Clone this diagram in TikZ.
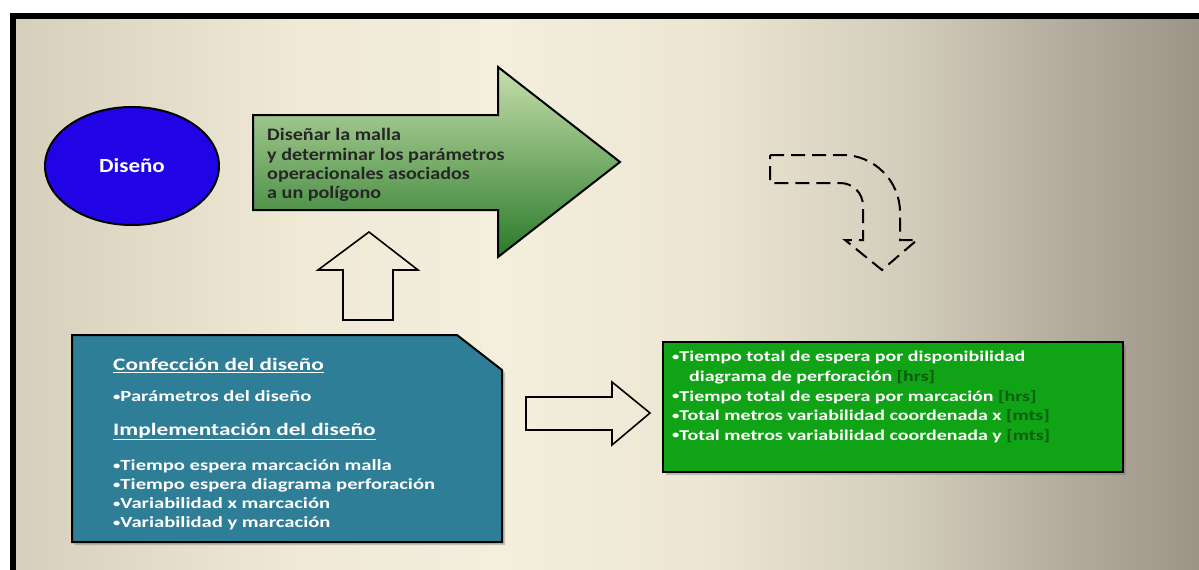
\documentclass[tikz,border=0pt]{standalone}
\usepackage{fontspec}
\setmainfont{Carlito}
\newfontfamily\widefont{Carlito}[FakeStretch=1.33]
\newfontfamily\arrowfont{Carlito}[FakeStretch=1.15]
\newfontfamily\ovalfont{Carlito}[FakeStretch=1.15]
\usetikzlibrary{shapes.geometric}

% small list bullet
\newcommand{\smallbul}{\raisebox{1.3pt}{\fontsize{11}{11}\selectfont•}}

\definecolor{bgA}{HTML}{D6CFBB}
\definecolor{bgB}{HTML}{EFE9D6}
\definecolor{bgC}{HTML}{F4EFDD}
\definecolor{bgD}{HTML}{ECE6D3}
\definecolor{bgE}{HTML}{D3CDBB}
\definecolor{bgF}{HTML}{B5AEA0}
\definecolor{bgG}{HTML}{9B9487}
\definecolor{ovalblue}{HTML}{2104E6}
\definecolor{leafhi}{HTML}{C6DFAC}
\definecolor{leafmid}{HTML}{86B56C}
\definecolor{leaflo}{HTML}{2A7A2A}
\definecolor{tealbox}{HTML}{2F7E98}
\definecolor{brightgreen}{HTML}{10A315}
\definecolor{unitgreen}{HTML}{0B5E10}
\definecolor{arrowtext}{HTML}{262626}

% the path's bounding box maps onto the span 25bp..75bp of the shading
\pgfdeclarehorizontalshading{slidebg}{100bp}{%
  color(0bp)=(bgA); color(25bp)=(bgA); color(37bp)=(bgB); color(45.5bp)=(bgC);
  color(54bp)=(bgD); color(62.5bp)=(bgE); color(69bp)=(bgF); color(75bp)=(bgG);
  color(100bp)=(bgG)}

\tikzset{
  outline/.style={draw=black, line width=2pt, line join=miter},
  hollowarrow/.style={draw=black, line width=1.6pt, line join=miter},
  dashedarrow/.style={draw=black, line width=2pt, dash pattern=on 14pt off 7pt},
  textline/.style={anchor=base west, inner sep=0pt},
  arrowline/.style={textline, text=arrowtext, font=\arrowfont\bfseries\fontsize{17.5}{19}\selectfont},
  headline/.style={textline, text=white, font=\widefont\bfseries\fontsize{17.5}{19}\selectfont},
  tealline/.style={textline, text=white, font=\widefont\bfseries\fontsize{15.5}{19}\selectfont},
  greenline/.style={textline, text=white, font=\widefont\bfseries\fontsize{15}{19}\selectfont},
}

\begin{document}
\begin{tikzpicture}[x=1pt, y=-1pt]
\useasboundingbox (0,0) rectangle (1199,570);

% slide frame and background
\fill[white] (0,0) rectangle (1199,570);
\fill[black] (10,13) rectangle (1199,570);
\shade[shading=slidebg] (16,19) rectangle (1199,570);

% design oval
\node[ellipse, outline, fill=ovalblue, minimum width=174pt, minimum height=118pt,
      text=white, font=\ovalfont\bfseries\fontsize{20}{22}\selectfont] (diseno) at (132,166) {Diseño};

% large green block arrow
\shade[outline, top color=leafhi, middle color=leafmid, bottom color=leaflo]
  (253,115) -- (498,115) -- (498,67) -- (620,162) -- (498,257) -- (498,210) -- (253,210) -- cycle;
\node[arrowline] (malla1) at (267,140.7) {Diseñar la malla};
\node[arrowline] (malla2) at (267,160)   {y determinar los parámetros};
\node[arrowline] (malla3) at (267,179.3) {operacionales asociados};
\node[arrowline] (malla4) at (267,198.6) {a un polígono};

% dashed bent arrow
\draw[dashedarrow]
  (770,155) -- (843,155) .. controls (874,155) and (900,181) .. (900,212)
  -- (900,240) -- (917,240) -- (882,270) -- (845,240) -- (863,240)
  -- (863,206) .. controls (863,193) and (853,183) .. (840,183) -- (770,183) -- cycle;

% hollow up arrow
\draw[hollowarrow]
  (343,320) -- (343,270) -- (318,270) -- (369,232) -- (418,270) -- (393,270) -- (393,320) -- cycle;

% teal box with clipped corner
\fill[black!60, opacity=0.35] (75,338) -- (460,338) -- (505,373) -- (505,545) -- (75,545) -- cycle;
\draw[outline, fill=tealbox]
  (72,335) -- (457,335) -- (502,370) -- (502,542) -- (72,542) -- cycle;
\node[headline] (conf) at (113,370.7) {\underline{Confección del diseño}};
\node[tealline] (param) at (113,401.7) {\smallbul Parámetros del diseño};
\node[headline] (impl) at (113,435) {\underline{Implementación del diseño}};
\node[tealline] (var1) at (113,470.7) {\smallbul Tiempo espera marcación malla};
\node[tealline] (var2) at (113,489.3) {\smallbul Tiempo espera diagrama perforación};
\node[tealline] (var3) at (113,508.3) {\smallbul Variabilidad x marcación};
\node[tealline] (var4) at (113,527.3) {\smallbul Variabilidad y marcación};

% hollow right arrow
\draw[hollowarrow]
  (526,397) -- (612,397) -- (612,382) -- (650,413) -- (612,445) -- (612,430) -- (526,430) -- cycle;

% green results box
\fill[black!60, opacity=0.35] (666,345) rectangle (1126,475);
\draw[outline, line width=2.5pt, fill=brightgreen] (663,342) rectangle (1123,472);
\node[greenline] (res1) at (672,361.7) {\smallbul Tiempo total de espera por disponibilidad};
\node[greenline] (res2) at (689,381)   {diagrama de perforación \textcolor{unitgreen}{[hrs]}};
\node[greenline] (res3) at (672,401)   {\smallbul Tiempo total de espera por marcación \textcolor{unitgreen}{[hrs]}};
\node[greenline] (res4) at (672,420.7) {\smallbul Total metros variabilidad coordenada x \textcolor{unitgreen}{[mts]}};
\node[greenline] (res5) at (672,440)   {\smallbul Total metros variabilidad coordenada y \textcolor{unitgreen}{[mts]}};
\end{tikzpicture}
\end{document}
